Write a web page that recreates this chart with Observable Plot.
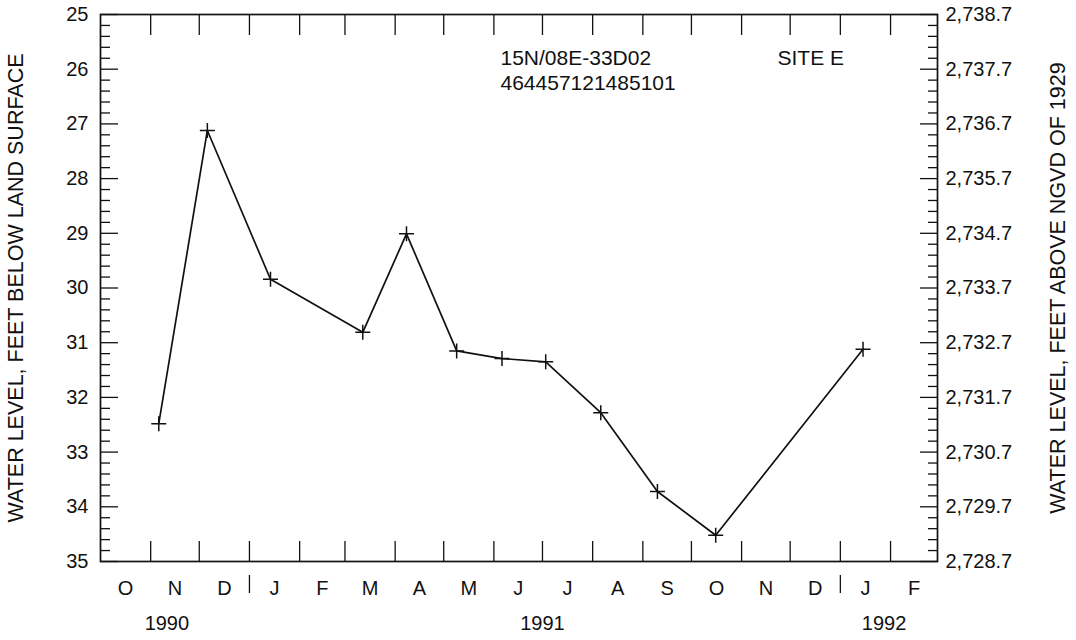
<!DOCTYPE html>
<html>
<head>
<meta charset="utf-8">
<script src="https://cdn.jsdelivr.net/npm/d3@7"></script>
<script src="https://cdn.jsdelivr.net/npm/@observablehq/plot@0.6"></script>
<style>
  html, body { margin: 0; padding: 0; background: #fff; }
  #chart svg { display: block; }
</style>
</head>
<body>
<div id="chart"></div>
<script>
// Water-level measurements, well 15N/08E-33D02 (Site E)
const sampleDates = ["1990-11-06", "1990-12-06", "1991-01-14", "1991-03-12", "1991-04-08",
  "1991-05-09", "1991-06-06", "1991-07-03", "1991-08-06", "1991-09-10", "1991-10-16", "1992-01-15"];
const depthBelowSurface = [32.48, 27.12, 29.84, 30.81, 29.01, 31.15, 31.29, 31.35, 32.28, 33.72, 34.52, 31.12];

// Axis labelling
const depthTicks = [25, 26, 27, 28, 29, 30, 31, 32, 33, 34, 35];
const altitudeLabels = ["2,738.7", "2,737.7", "2,736.7", "2,735.7", "2,734.7", "2,733.7",
  "2,732.7", "2,731.7", "2,730.7", "2,729.7", "2,728.7"];
const monthLabels = ["O", "N", "D", "J", "F", "M", "A", "M", "J", "J", "A", "S", "O", "N", "D", "J", "F"];
const yearLabels = ["1990", "1991", "1992"];
const yearLabelDates = ["1990-11-11", "1991-07-01", "1992-01-28"];
const wellId = "15N/08E-33D02";
const stationId = "464457121485101";
const siteName = "SITE E";

const start = new Date("1990-10-01"), end = new Date("1992-03-01");
const monthStarts = d3.utcMonth.range(start, end);
const monthBounds = monthStarts.slice(1);
const midMonths = monthStarts.map(m => new Date((+m + +d3.utcMonth.offset(m, 1)) / 2));
const yearStarts = d3.utcYear.range(start, end);
const minorTicks = d3.range(125, 176).filter(i => i % 5 !== 0).map(i => i / 5);

const data = sampleDates.map((d, i) => ({date: new Date(d), depth: depthBelowSurface[i]}));

// Thin "+" marker
const cross = {
  draw(context, size) {
    const r = Math.sqrt(size / Math.PI);
    context.moveTo(-r, 0); context.lineTo(r, 0);
    context.moveTo(0, -r); context.lineTo(0, r);
  }
};

const ink = "#111";
const font = "'Liberation Sans', Arial, Helvetica, sans-serif";

const chart = Plot.plot({
  width: 1076,
  height: 640,
  marginTop: 14,
  marginRight: 139,
  marginBottom: 79,
  marginLeft: 100,
  style: {fontFamily: font, fontSize: "20px", color: ink, background: "#fff"},
  x: {type: "utc", domain: [start, end]},
  y: {domain: [25, 35], reverse: true},
  marks: [
    // left depth axis: inward ticks + labels
    Plot.axisY(depthTicks, {anchor: "left", tickSize: -18, fill: "none", label: null, strokeWidth: 1.3}),
    Plot.axisY(minorTicks, {anchor: "left", tickSize: -10, fill: "none", label: null, strokeWidth: 1.3}),
    Plot.axisY(depthTicks, {anchor: "left", tickSize: 0, tickPadding: 12, label: null, tickFormat: d => String(d)}),
    // right altitude axis
    Plot.axisY(depthTicks, {anchor: "right", tickSize: -18, fill: "none", label: null, strokeWidth: 1.3}),
    Plot.axisY(minorTicks, {anchor: "right", tickSize: -10, fill: "none", label: null, strokeWidth: 1.3}),
    Plot.axisY(depthTicks, {anchor: "right", tickSize: 0, tickPadding: 8, label: null,
      tickFormat: d => altitudeLabels[depthTicks.indexOf(d)]}),
    // month boundaries, top and bottom
    Plot.axisX(monthBounds, {anchor: "bottom", tickSize: -20, fill: "none", label: null, strokeWidth: 1.3}),
    Plot.axisX(monthBounds, {anchor: "top", tickSize: -20, fill: "none", label: null, strokeWidth: 1.3}),
    // year separators between month letters
    Plot.axisX(yearStarts, {anchor: "bottom", tickSize: 18, dy: 14, fill: "none", label: null, strokeWidth: 1.3}),
    // month letters and years
    Plot.text(monthLabels, {x: (d, i) => midMonths[i], text: d => d, frameAnchor: "bottom",
      lineAnchor: "middle", dy: 27, fontSize: 20, fill: ink}),
    Plot.text(yearLabels, {x: (d, i) => new Date(yearLabelDates[i]), text: d => d, frameAnchor: "bottom",
      lineAnchor: "middle", dy: 62, fontSize: 20, fill: ink}),
    // axis titles
    Plot.text(["WATER LEVEL, FEET BELOW LAND SURFACE"], {frameAnchor: "left", dx: -84, rotate: -90,
      textAnchor: "middle", lineAnchor: "middle", fontSize: 21.5, fill: ink}),
    Plot.text(["WATER LEVEL, FEET ABOVE NGVD OF 1929"], {frameAnchor: "right", dx: 121, rotate: -90,
      textAnchor: "middle", lineAnchor: "middle", fontSize: 21.5, fill: ink}),
    // well identification
    Plot.text([wellId], {frameAnchor: "top-left", dx: 400, dy: 43.5, textAnchor: "start",
      lineAnchor: "middle", fontSize: 21, fill: ink}),
    Plot.text([stationId], {frameAnchor: "top-left", dx: 400, dy: 68.5, textAnchor: "start",
      lineAnchor: "middle", fontSize: 21, fill: ink}),
    Plot.text([siteName], {frameAnchor: "top-left", dx: 677, dy: 43.5, textAnchor: "start",
      lineAnchor: "middle", fontSize: 21, fill: ink}),
    // hydrograph
    Plot.line(data, {x: "date", y: "depth", stroke: ink, strokeWidth: 1.7}),
    Plot.dot(data, {x: "date", y: "depth", symbol: cross, r: 7.5, stroke: ink, strokeWidth: 1.5, fill: "none"}),
    Plot.frame({stroke: ink, strokeWidth: 1.7})
  ]
});

document.getElementById("chart").appendChild(chart);
</script>
</body>
</html>
